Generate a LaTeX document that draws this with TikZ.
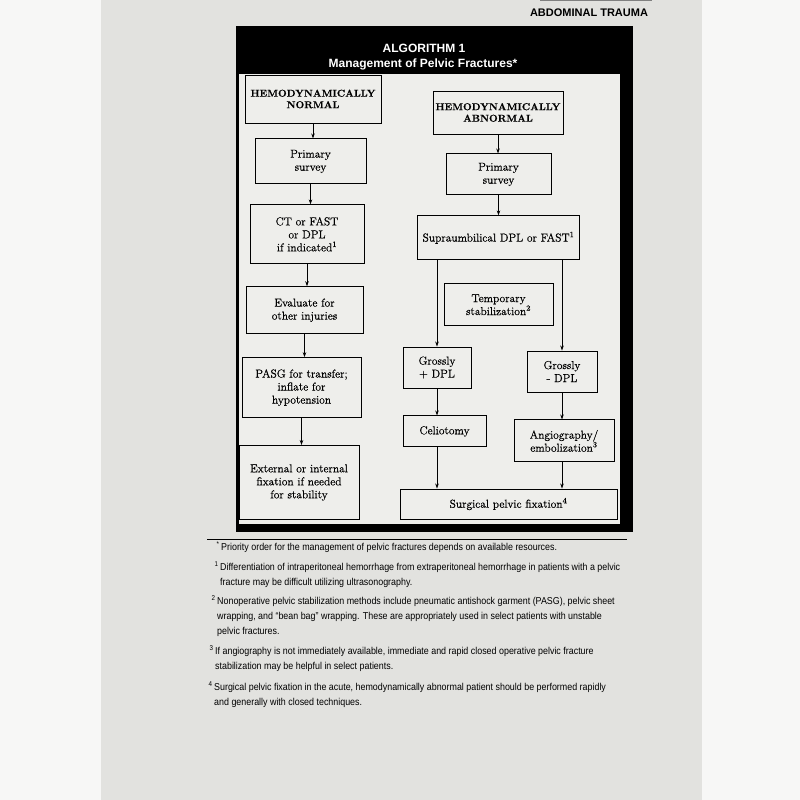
\documentclass[tikz,border=0pt]{standalone}
\usepackage{fontspec}
\usepackage{tikz}
\usetikzlibrary{arrows.meta,positioning}
\newfontfamily\fnfont[FakeStretch=0.89]{Liberation Sans}
\newfontfamily\headfont{Liberation Sans}
\newfontfamily\boxfont[FakeBold=0.5]{Latin Modern Roman}
\tikzset{
  stepbox/.style={draw, line width=0.9pt, fill=boxwhite, align=center,
                  inner sep=2pt, font=\boxfont\fontsize{11.5}{13}\selectfont},
  headbox/.style={stepbox, font=\boxfont\fontsize{10}{11.5}\selectfont\bfseries},
  arr/.style    ={-{Stealth[length=5pt,width=3.5pt]}, line width=0.8pt},
  fnote/.style  ={anchor=west, align=left, inner sep=0pt,
                  font=\fnfont\fontsize{10}{15}\selectfont},
}
\definecolor{pagegray}{RGB}{226,226,223}
\definecolor{boxwhite}{RGB}{238,238,235}
\definecolor{outwhite}{RGB}{247,247,246}

\begin{document}
\begin{tikzpicture}[x=1pt,y=-1pt]
  \useasboundingbox (0,0) rectangle (800,800);
  \fill[outwhite] (0,0) rectangle (800,800);
  \fill[pagegray] (101,0) rectangle (702,800);
  % running head
  \draw[gray, line width=1pt] (540,1) -- (652,1);
  \node[font=\headfont\bfseries\fontsize{11}{12}\selectfont] (runhead) at (589,13) {ABDOMINAL TRAUMA};
  % frame and title band
  \fill[black] (236,26) rectangle (633,532);
  \fill[boxwhite] (239,74) rectangle (620,524);
  \node[white, font=\headfont\bfseries\fontsize{12}{13}\selectfont] (algo) at (424,48) {ALGORITHM 1};
  \node[white, font=\headfont\bfseries\fontsize{12}{13}\selectfont] (title) at (423,64) {Management of Pelvic Fractures*};

  % hemodynamically normal
  \node[headbox, minimum width=136, minimum height=48] (hnorm) at (313,99) {HEMODYNAMICALLY\\NORMAL};
  \node[stepbox, minimum width=111, minimum height=45, below=15pt of hnorm, xshift=-2.5pt] (primn) {Primary\\survey};
  \node[stepbox, minimum width=114, minimum height=59, below=20pt of primn, xshift=-3.5pt] (ctfast) {CT or FAST\\or DPL\\if indicated\textsuperscript{1}};
  \node[stepbox, minimum width=117, minimum height=47, below=22pt of ctfast, xshift=-2.5pt] (evalinj) {Evaluate for\\other injuries};
  \node[stepbox, minimum width=119, minimum height=60, below=23pt of evalinj, xshift=-3pt] (pasg) {PASG for transfer;\\inflate for\\hypotension};
  \node[stepbox, minimum width=120, minimum height=74, below=27pt of pasg, xshift=-2.5pt] (extfix) {External or internal\\fixation if needed\\for stability};
  \draw[arr] (hnorm.south) -- (hnorm.south |- primn.north);
  \draw[arr] (primn.south) -- (primn.south |- ctfast.north);
  \draw[arr] (ctfast.south) -- (ctfast.south |- evalinj.north);
  \draw[arr] (evalinj.south) -- (evalinj.south |- pasg.north);
  \draw[arr] (pasg.south) -- (pasg.south |- extfix.north);

  % hemodynamically abnormal
  \node[headbox, minimum width=130, minimum height=43] (habn) at (498,112.5) {HEMODYNAMICALLY\\ABNORMAL};
  \node[stepbox, minimum width=105, minimum height=41, below=19pt of habn, xshift=0.5pt] (prima) {Primary\\survey};
  \node[stepbox, minimum width=162, minimum height=44, below=20pt of prima] (supra) {Supraumbilical DPL or FAST\textsuperscript{1}};
  \node[stepbox, minimum width=109, minimum height=42, below=23pt of supra] (tempstab) {Temporary\\stabilization\textsuperscript{2}};
  \node[stepbox, minimum width=68, minimum height=41] (gplus) at (437,367.5) {Grossly\\+ DPL};
  \node[stepbox, minimum width=70, minimum height=41] (gminus) at (562,371.5) {Grossly\\- DPL};
  \node[stepbox, minimum width=83, minimum height=31, below=27pt of gplus, xshift=7.5pt] (celio) {Celiotomy};
  \node[stepbox, minimum width=100, minimum height=42, below=27pt of gminus, xshift=2pt] (angio) {Angiography/\\embolization\textsuperscript{3}};
  \node[stepbox, minimum width=217, minimum height=30] (surgfix) at (508.5,504) {Surgical pelvic fixation\textsuperscript{4}};
  \draw[arr] (habn.south) -- (habn.south |- prima.north);
  \draw[arr] (prima.south) -- (prima.south |- supra.north);
  \draw[arr] (gplus.north |- supra.south) -- (gplus.north);
  \draw[arr] (gminus.north |- supra.south) -- (gminus.north);
  \draw[arr] (gplus.south) -- (gplus.south |- celio.north);
  \draw[arr] (gminus.south) -- (gminus.south |- angio.north);
  \draw[arr] (gplus.south |- celio.south) -- (gplus.south |- surgfix.north);
  \draw[arr] (gminus.south |- angio.south) -- (gminus.south |- surgfix.north);

  % footnotes
  \draw[line width=0.9pt] (207,539) -- (627,539);
  \node[fnote] (fnstar) at (221,547) {\llap{\textsuperscript{*}\,}Priority order for the management of pelvic fractures depends on available resources.};
  \node[fnote] (fnone) at (220,574.5) {\llap{\textsuperscript{1}\,}Differentiation of intraperitoneal hemorrhage from extraperitoneal hemorrhage in patients with a pelvic\\fracture may be difficult utilizing ultrasonography.};
  \node[fnote] (fntwo) at (217,616) {\llap{\textsuperscript{2}\,}Nonoperative pelvic stabilization methods include pneumatic antishock garment (PASG), pelvic sheet\\wrapping, and “bean bag” wrapping. These are appropriately used in select patients with unstable\\pelvic fractures.};
  \node[fnote] (fnthree) at (215,658.5) {\llap{\textsuperscript{3}\,}If angiography is not immediately available, immediate and rapid closed operative pelvic fracture\\stabilization may be helpful in select patients.};
  \node[fnote] (fnfour) at (214,694.5) {\llap{\textsuperscript{4}\,}Surgical pelvic fixation in the acute, hemodynamically abnormal patient should be performed rapidly\\and generally with closed techniques.};
\end{tikzpicture}
\end{document}
